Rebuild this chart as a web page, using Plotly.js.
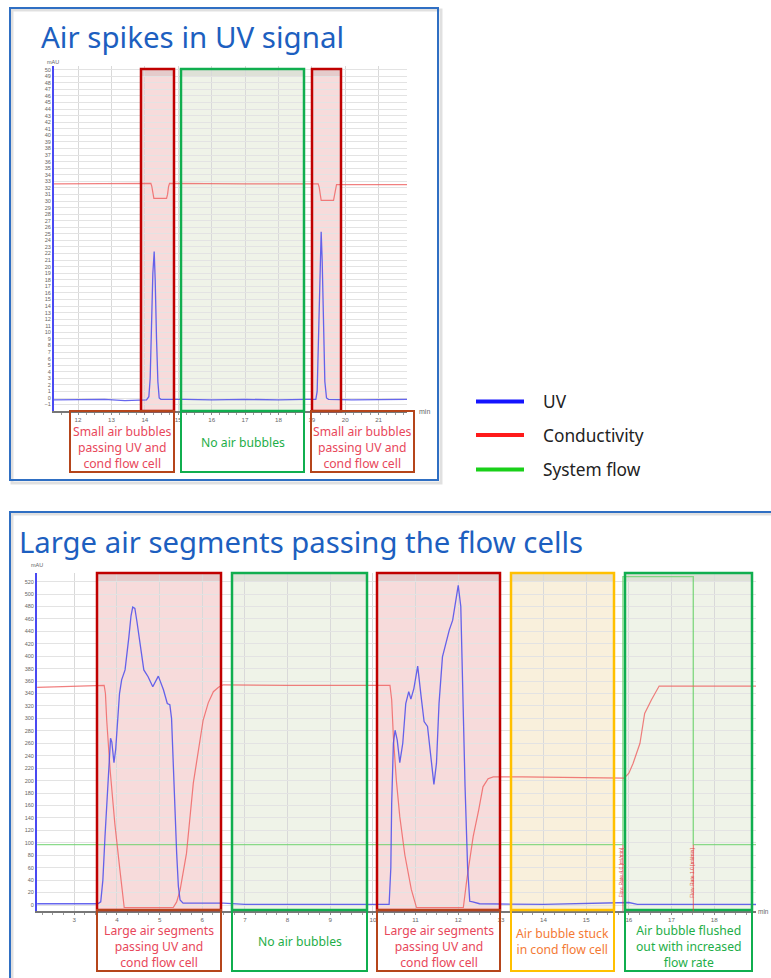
<!DOCTYPE html>
<html><head><meta charset="utf-8">
<script src="https://cdn.plot.ly/plotly-3.0.1.min.js"></script>
<style>html,body{margin:0;padding:0;background:#fff}#chart{width:771px;height:978px}</style>
</head><body><div id="chart"></div>
<script>
// ---------- DATA ----------
// Top chart: "Air spikes in UV signal" (time in min)
const topUvTime = [11.28, 12.0, 12.8, 13.4, 14.05, 14.12, 14.16, 14.20, 14.24, 14.28, 14.31, 14.35, 14.39, 14.43, 14.48, 15.2, 16.0, 17.0, 18.0, 18.8, 19.12, 19.16, 19.20, 19.24, 19.28, 19.31, 19.35, 19.39, 19.44, 19.50, 20.2, 21.0, 21.85];
const topUvValue = [-0.3, -0.3, -0.2, -0.4, -0.3, 0.2, 3, 11, 19, 22.3, 18, 9, 2.5, 0, -0.2, -0.2, -0.3, -0.2, -0.3, -0.2, -0.2, 1, 10, 21, 25.3, 21, 10, 2.5, 0, -0.2, -0.3, -0.2, -0.2];
const topCondTime = [11.28, 13.0, 14.18, 14.21, 14.24, 14.27, 14.65, 14.68, 14.71, 14.74, 17.0, 19.19, 19.22, 19.25, 19.28, 19.65, 19.68, 19.71, 19.74, 21.85];
const topCondValue = [32.6, 32.7, 32.7, 32.2, 31.0, 30.4, 30.4, 31.0, 32.2, 32.7, 32.6, 32.6, 32.1, 30.8, 30.1, 30.1, 30.8, 32.0, 32.5, 32.5];

// Bottom chart: "Large air segments passing the flow cells"
const botUvTime = [2.13, 3.0, 3.55, 3.62, 3.67, 3.72, 3.77, 3.80, 3.85, 3.88, 3.93, 3.97, 4.01, 4.06, 4.11, 4.19, 4.28, 4.33, 4.37, 4.42, 4.47, 4.52, 4.63, 4.73, 4.84, 4.97, 5.09, 5.18, 5.24, 5.28, 5.32, 5.36, 5.40, 5.44, 5.48, 5.55, 6.5, 7.0, 8.5, 10.38, 10.42, 10.44, 10.48, 10.52, 10.57, 10.63, 10.70, 10.77, 10.84, 10.89, 10.96, 11.05, 11.13, 11.20, 11.28, 11.36, 11.43, 11.49, 11.55, 11.63, 11.71, 11.79, 11.87, 11.94, 12.00, 12.06, 12.10, 12.16, 12.22, 12.27, 12.34, 12.5, 14.0, 16.0, 16.2, 18.98];
const botUvValue = [2, 2, 2, 5, 40, 110, 175, 217, 268, 262, 229, 250, 297, 340, 362, 378, 431, 465, 479, 477, 455, 431, 378, 367, 351, 368, 346, 324, 322, 300, 217, 150, 83, 30, 8, 3, 3, 1, 1, 1, 60, 163, 260, 281, 265, 229, 260, 324, 343, 331, 348, 384, 335, 295, 287, 233, 194, 228, 324, 399, 421, 442, 458, 490, 514, 480, 351, 190, 60, 6, 5, 2, 1, 4, 1, 1];
const botCondTime = [2.13, 3.0, 3.70, 3.73, 3.76, 3.84, 3.95, 4.07, 4.17, 5.32, 5.40, 5.48, 5.63, 5.79, 6.02, 6.14, 6.26, 6.38, 6.49, 8.0, 10.40, 10.44, 10.48, 10.55, 10.63, 10.75, 10.90, 11.02, 12.12, 12.20, 12.35, 12.48, 12.58, 12.70, 12.82, 13.5, 15.0, 15.89, 16.00, 16.10, 16.26, 16.37, 16.53, 16.71, 18.98];
const botCondValue = [350, 352, 353, 340, 297, 217, 131, 56, -4, -4, 5, 24, 83, 196, 297, 325, 343, 350, 354, 353, 353, 330, 270, 200, 142, 80, 25, -4, -4, 40, 110, 153, 190, 203, 206, 206, 205, 204, 212, 228, 260, 308, 330, 352, 352];
const botFlowTime = [2.13, 15.86, 15.86, 17.51, 17.51, 18.98];
const botFlowValue = [97, 97, 528, 528, 97, 97];

// Flow-rate events (bottom chart)
const flowEventTime = [15.86, 17.51];
const flowEventLabel = ['Flow Rate 4.0 [ml/min]', 'Flow Rate 1.0 [ml/min]'];

// Text
const titles = ['Air spikes in UV signal', 'Large air segments passing the flow cells'];
const legendLabels = ['UV', 'Conductivity', 'System flow'];
const topRegionLabels = ['Small air bubbles<br>passing UV and<br>cond flow cell', 'No air bubbles', 'Small air bubbles<br>passing UV and<br>cond flow cell'];
const botRegionLabels = ['Large air segments<br>passing UV and<br>cond flow cell', 'No air bubbles', 'Large air segments<br>passing UV and<br>cond flow cell', 'Air bubble stuck<br>in cond flow cell', 'Air bubble flushed<br>out with increased<br>flow rate'];

// ---------- LAYOUT HELPERS ----------
const W = 771, H = 978;
const px = x => x / W, py = y => 1 - y / H;
function rect(x0, y0, x1, y1, opt) {
  return Object.assign({type: 'rect', xref: 'paper', yref: 'paper', x0: px(x0), x1: px(x1), y0: py(y1), y1: py(y0)}, opt);
}
function hline(x0, x1, y, color, width) {
  return {type: 'line', xref: 'paper', yref: 'paper', x0: px(x0), x1: px(x1), y0: py(y), y1: py(y), line: {color, width}};
}
function ann(text, x, y, opt) {
  return Object.assign({text, xref: 'paper', yref: 'paper', x: px(x), y: py(y), showarrow: false, xanchor: 'center', yanchor: 'middle', align: 'center', borderpad: 0}, opt);
}

const C = {
  red: {border: '#c00000', fill: 'rgba(225,110,110,0.25)', text: '#e8475a', lbl: '#b5451b'},
  green: {border: '#10ae4f', fill: 'rgba(175,195,140,0.2)', text: '#1eae48', lbl: '#10ae4f'},
  yellow: {border: '#ffc000', fill: 'rgba(235,200,130,0.28)', text: '#f47a35', lbl: '#ffc000'}
};

const shapes = [];
const annotations = [];

// panel frames with a soft shadow
shapes.push(rect(12, 10, 441, 483, {layer: 'below', line: {color: 'rgba(0,0,0,0.12)', width: 3}}));
shapes.push(rect(10, 8, 438, 480, {layer: 'above', line: {color: '#2f6fc3', width: 2}}));
shapes.push(rect(12, 514, 800, 1000, {layer: 'below', line: {color: 'rgba(0,0,0,0.12)', width: 3}}));
shapes.push(rect(10, 512, 800, 1000, {layer: 'above', line: {color: '#2f6fc3', width: 2}}));

function region(x0, x1, top, bottom, lblX0, lblX1, lblBottom, c, label, centerY) {
  shapes.push(rect(x0, top, x1, bottom, {layer: 'below', fillcolor: c.fill, line: {width: 0}}));
  shapes.push(rect(x0, top, x1, top + 8, {layer: 'below', fillcolor: 'rgba(0,0,0,0.07)', line: {width: 0}}));
  shapes.push(rect(x0, top, x1, bottom, {layer: 'above', fillcolor: 'rgba(0,0,0,0)', line: {color: c.border, width: 2.5}}));
  shapes.push(rect(lblX0, bottom, lblX1, lblBottom, {layer: 'above', fillcolor: 'rgba(0,0,0,0)', line: {color: c.lbl, width: 2}}));
  annotations.push(ann(label, (lblX0 + lblX1) / 2, centerY, {font: {family: 'Noto Sans', size: 12.2, color: c.text}}));
}

// top chart regions
region(141, 174, 69, 411, 70, 174, 472, C.red, topRegionLabels[0], 447.5);
region(181, 304, 69, 411, 181, 304, 472, C.green, topRegionLabels[1], 442);
region(312, 341, 69, 411, 311, 414, 472, C.red, topRegionLabels[2], 447.5);

// bottom chart regions
region(97, 221, 573, 910, 97, 221, 971, C.red, botRegionLabels[0], 946.5);
region(232, 367, 573, 910, 232, 367, 971, C.green, botRegionLabels[1], 941.5);
region(377, 500, 573, 910, 377, 500, 971, C.red, botRegionLabels[2], 946.5);
region(511, 614, 573, 910, 511, 614, 971, C.yellow, botRegionLabels[3], 941.5);
region(625, 752, 573, 910, 625, 752, 971, C.green, botRegionLabels[4], 946.5);

// titles
annotations.push(ann(titles[0], 40, 36, {xanchor: 'left', font: {family: 'Noto Sans', size: 29.5, color: '#1d5fc0'}}));
annotations.push(ann(titles[1], 18, 542, {xanchor: 'left', font: {family: 'Noto Sans', size: 29.3, color: '#1d5fc0'}}));

// axis unit labels
const small = {family: 'Liberation Sans', size: 5.5, color: '#666'};
annotations.push(ann('mAU', 53, 62, {font: small}));
annotations.push(ann('min', 424, 412, {font: Object.assign({}, small, {size: 7})}));
annotations.push(ann('mAU', 37, 565, {font: small}));
annotations.push(ann('min', 770, 911, {xanchor: 'right', font: Object.assign({}, small, {size: 6.5})}));

// legend
const legendColors = ['#1414ff', '#ff1a1a', '#19d019'];
const legendY = [401.5, 435, 469.5];
legendLabels.forEach((t, i) => {
  shapes.push(hline(476, 524, legendY[i], legendColors[i], 4));
  annotations.push(ann(t, 542, legendY[i], {xanchor: 'left', font: {family: 'Noto Sans', size: 17.3, color: '#222'}}));
});

// flow-rate event markers
flowEventTime.forEach((t, i) => {
  shapes.push({type: 'line', xref: 'x2', yref: 'y2', x0: t, x1: t, y0: -10, y1: botFlowValue[0], layer: 'above', line: {color: 'rgba(230,60,60,0.75)', width: 1}});
  annotations.push({text: flowEventLabel[i], xref: 'x2', yref: 'y2', x: t, y: 52, showarrow: false, textangle: -90, xshift: -2, font: {family: 'Liberation Sans', size: 5, color: '#e04848'}});
});

// ---------- TRACES ----------
const uvLine = {color: 'rgba(75,75,235,0.85)', width: 1.3};
const condLine = {color: 'rgba(238,95,95,0.8)', width: 1.2};
const traces = [
  {x: topCondTime, y: topCondValue, type: 'scatter', mode: 'lines', line: condLine, xaxis: 'x', yaxis: 'y', name: 'Conductivity', showlegend: false},
  {x: topUvTime, y: topUvValue, type: 'scatter', mode: 'lines', line: uvLine, xaxis: 'x', yaxis: 'y', name: 'UV', showlegend: false},
  {x: botFlowTime, y: botFlowValue, type: 'scatter', mode: 'lines', line: {color: 'rgba(110,210,110,0.8)', width: 1.4}, xaxis: 'x2', yaxis: 'y2', name: 'System flow', showlegend: false},
  {x: botCondTime, y: botCondValue, type: 'scatter', mode: 'lines', line: condLine, xaxis: 'x2', yaxis: 'y2', name: 'Conductivity', showlegend: false},
  {x: botUvTime, y: botUvValue, type: 'scatter', mode: 'lines', line: uvLine, xaxis: 'x2', yaxis: 'y2', name: 'UV', showlegend: false}
];

const tickFont = {family: 'Liberation Sans', size: 6.2, color: '#666'};
const xBase = {
  dtick: 1, tick0: 0, showgrid: true, gridcolor: '#d9d9d9', gridwidth: 1, zeroline: false,
  showline: true, linecolor: '#777', linewidth: 1.5, ticks: 'outside', ticklen: 2, tickcolor: '#888',
  minor: {dtick: 0.25, ticks: 'outside', ticklen: 2, tickcolor: '#999', showgrid: false},
  tickfont: tickFont, fixedrange: true
};
const yBase = {
  showgrid: true, gridcolor: '#e3e3e3', gridwidth: 1, zeroline: false,
  showline: true, linecolor: '#4a4af2', linewidth: 2, ticks: '', tickfont: Object.assign({}, tickFont, {size: 5.5}), fixedrange: true
};

const layout = {
  width: W, height: H, margin: {l: 0, r: 0, t: 0, b: 0},
  paper_bgcolor: '#ffffff', plot_bgcolor: 'rgba(0,0,0,0)', showlegend: false,
  xaxis: Object.assign({}, xBase, {domain: [px(54), px(407)], range: [11.28, 21.85], anchor: 'y'}),
  yaxis: Object.assign({}, yBase, {domain: [py(411), py(66)], range: [-1.98, 50.56], dtick: 1, anchor: 'x'}),
  xaxis2: Object.assign({}, xBase, {domain: [px(37), px(756)], range: [2.126, 18.98], anchor: 'y2'}),
  yaxis2: Object.assign({}, yBase, {domain: [py(911), py(573)], range: [-9.65, 533.8], dtick: 20, anchor: 'x2'}),
  shapes, annotations
};

Plotly.newPlot('chart', traces, layout, {displayModeBar: false, staticPlot: true});
</script>
</body></html>
